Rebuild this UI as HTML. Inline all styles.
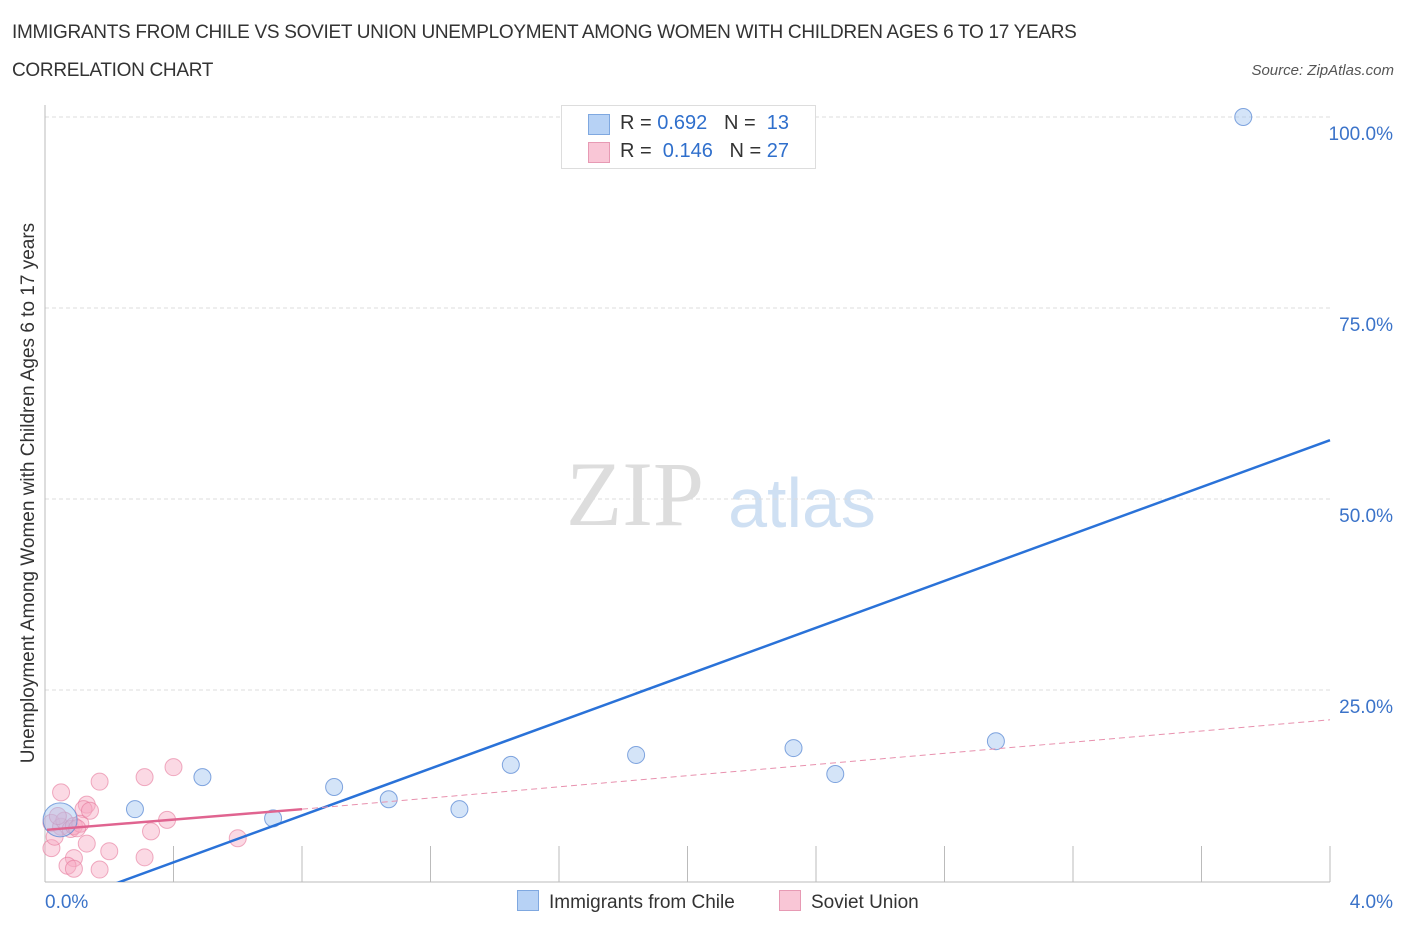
<!DOCTYPE html>
<html><head><meta charset="utf-8"><style>
body{margin:0;background:#fff;font-family:"Liberation Sans",sans-serif;}
#wrap{position:relative;width:1406px;height:930px;overflow:hidden;}
.t{position:absolute;color:#333;}
</style></head><body>
<div id="wrap">
<div class="t" style="left:12px;top:22px;font-size:19px;letter-spacing:-0.3px">IMMIGRANTS FROM CHILE VS SOVIET UNION UNEMPLOYMENT AMONG WOMEN WITH CHILDREN AGES 6 TO 17 YEARS</div>
<div class="t" style="left:12px;top:60px;font-size:19px;letter-spacing:-0.3px">CORRELATION CHART</div>
<div class="t" style="right:12px;top:62px;font-size:15px;font-style:italic;color:#555">Source: ZipAtlas.com</div>
<svg id="svg" width="1406" height="930" style="position:absolute;left:0;top:0"><defs><clipPath id="pc"><rect x="45" y="100" width="1290" height="782"/></clipPath></defs></svg>
</div>
<script>
const xTicks=[0,0.4,0.8,1.2,1.6,2.0,2.4,2.8,3.2,3.6,4.0];
const yTicks=[25,50,75,100];
const yTickLabels=["25.0%","50.0%","75.0%","100.0%"];
const chileX=[0.047,0.28,0.49,0.71,0.90,1.07,1.29,1.45,1.84,2.33,2.46,2.96,3.73];
const chileY=[8.0,9.4,13.6,8.2,12.3,10.7,9.4,15.2,16.5,17.4,14.0,18.3,100];
const sovX=[0.05,0.17,0.31,0.40,0.13,0.12,0.02,0.05,0.06,0.08,0.09,0.11,0.33,0.38,0.02,0.13,0.20,0.31,0.09,0.07,0.09,0.17,0.60,0.03,0.14,0.04,0.10];
const sovY=[11.6,13.0,13.6,14.9,10.0,9.4,7.6,7.1,7.9,6.8,7.2,7.5,6.5,8.0,4.3,4.9,3.9,3.1,3.0,2.0,1.6,1.5,5.6,5.8,9.2,8.5,6.9];
const chileLine=[[0,-3.7],[4,57.7]];
const sovSolid=[[0,6.7],[0.8,9.4]];
const sovDash=[[0.8,9.4],[4,21.1]];
const X=v=>45+v/4*1285, Y=v=>881-v*7.64;
const svg=document.getElementById('svg');const NS='http://www.w3.org/2000/svg';
function mk(t,a,p){const e=document.createElementNS(NS,t);for(const k in a)e.setAttribute(k,a[k]);(p||svg).appendChild(e);return e;}
let w=mk('text',{x:635,y:525,'font-size':92,'font-family':'Liberation Serif',fill:'#ddd','text-anchor':'middle'});w.textContent='ZIP';


w=mk('text',{x:802,y:527,'font-size':70,'font-family':'Liberation Sans',fill:'#cfe0f3','text-anchor':'middle'});w.textContent='atlas';


yTicks.forEach((v,i)=>{
 let g=mk('line',{x1:45,x2:1330,y1:Y(v),y2:Y(v),stroke:'#ddd','stroke-dasharray':'4,3'});
 
 
 let t=mk('text',{x:1393,y:Y(v)+23,'font-size':19,fill:'#3b73c9','text-anchor':'end'});t.textContent=yTickLabels[i];
 
 
});
let ax=mk('line',{x1:45,x2:45,y1:105,y2:882,stroke:'#bbb'});


ax=mk('line',{x1:45,x2:1330,y1:882,y2:882,stroke:'#bbb'});


xTicks.forEach(v=>{let t=mk('line',{x1:X(v),x2:X(v),y1:846,y2:882,stroke:'#bbb'});
 
 });
[[0,'0.0%',45,'start'],[4,'4.0%',1393,'end']].forEach(d=>{let t=mk('text',{x:d[2],y:908,'font-size':19,fill:'#3b73c9','text-anchor':d[3]});t.textContent=d[1];
 
 });
let yl=mk('text',{transform:'translate(34,493) rotate(-90)','font-size':19,fill:'#333','text-anchor':'middle'});yl.textContent='Unemployment Among Women with Children Ages 6 to 17 years';


sovX.forEach((x,i)=>{let c=mk('circle',{cx:X(x),cy:Y(sovY[i]),r:8.5,fill:'rgba(247,170,195,0.45)',stroke:'rgba(230,120,155,0.6)','stroke-width':1});
 
 });
chileX.forEach((x,i)=>{let c=mk('circle',{cx:X(x),cy:Y(chileY[i]),r:i==0?17:8.5,fill:'rgba(160,195,240,0.45)',stroke:'rgba(80,130,210,0.7)','stroke-width':1});
 
 });
let l=mk('line',{x1:X(chileLine[0][0]),y1:Y(chileLine[0][1]),x2:X(chileLine[1][0]),y2:Y(chileLine[1][1]),stroke:'#2a72d8','stroke-width':2.5,'clip-path':'url(#pc)'});


l=mk('line',{x1:X(sovSolid[0][0])+2,y1:Y(sovSolid[0][1]),x2:X(sovSolid[1][0]),y2:Y(sovSolid[1][1]),stroke:'#e06490','stroke-width':2.5});


l=mk('line',{x1:X(sovDash[0][0]),y1:Y(sovDash[0][1]),x2:X(sovDash[1][0]),y2:Y(sovDash[1][1]),stroke:'#e891ae','stroke-width':1,'stroke-dasharray':'6,4'});


</script>
<div style="position:absolute;left:561px;top:105px;width:253px;height:62px;border:1px solid #ddd;background:#fff;font-size:20px">
 <div style="position:absolute;left:26px;top:8px;width:20px;height:19px;background:#b7d2f5;border:1px solid #7fa8e0"></div>
 <div style="position:absolute;left:58px;top:6px;color:#333">R = <span style="color:#2f6fcc">0.692</span>&nbsp;&nbsp;&nbsp;N = &nbsp;<span style="color:#2f6fcc">13</span></div>
 <div style="position:absolute;left:26px;top:36px;width:20px;height:19px;background:#f9c6d6;border:1px solid #e79ab4"></div>
 <div style="position:absolute;left:58px;top:34px;color:#333">R = &nbsp;<span style="color:#2f6fcc">0.146</span>&nbsp;&nbsp;&nbsp;N = <span style="color:#2f6fcc">27</span></div>
</div>
<div style="position:absolute;left:517px;top:890px;font-size:19px;color:#333"><span style="display:inline-block;width:20px;height:19px;background:#b7d2f5;border:1px solid #7fa8e0;vertical-align:-3px;margin-right:10px"></span>Immigrants from Chile</div>
<div style="position:absolute;left:779px;top:890px;font-size:19px;color:#333"><span style="display:inline-block;width:20px;height:19px;background:#f9c6d6;border:1px solid #e79ab4;vertical-align:-3px;margin-right:10px"></span>Soviet Union</div>
</body></html>
